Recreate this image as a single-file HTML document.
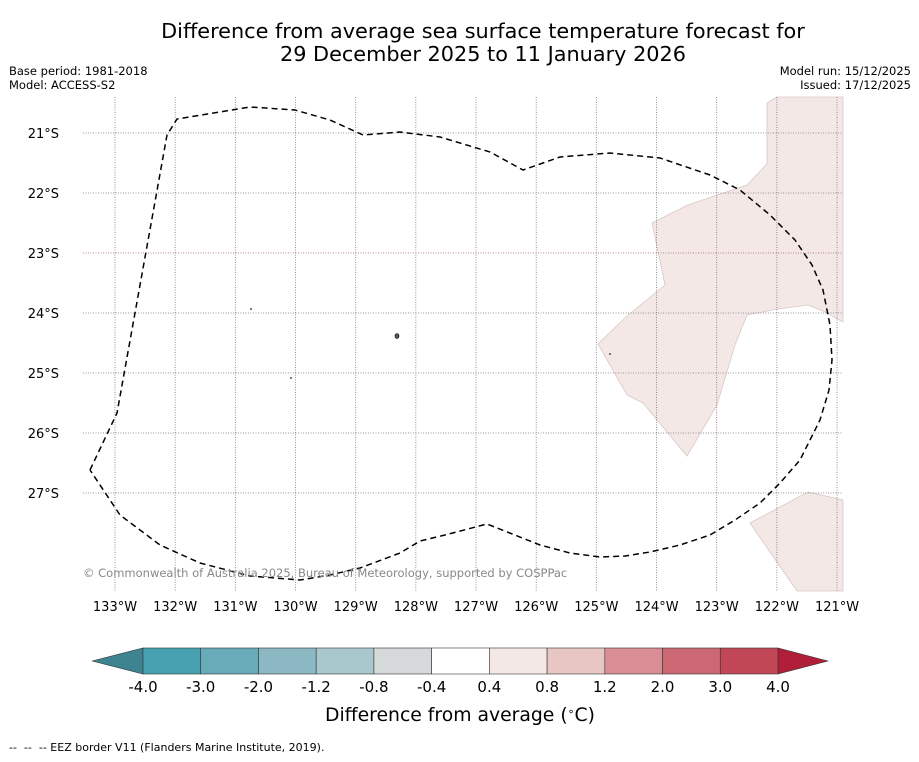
<!DOCTYPE html>
<html><head><meta charset="utf-8"><style>
body{margin:0;background:#fff;font-family:"DejaVu Sans","Liberation Sans",sans-serif;}
svg text{font-family:"DejaVu Sans","Liberation Sans",sans-serif;}
</style></head><body>
<svg id="c" width="919" height="758" xmlns="http://www.w3.org/2000/svg">
<rect width="919" height="758" fill="#fff"/>
<text x="483" y="38" font-size="20.8" text-anchor="middle">Difference from average sea surface temperature forecast for</text>
<text x="483" y="61" font-size="20.8" text-anchor="middle">29 December 2025 to 11 January 2026</text>
<text x="9" y="75" font-size="11.5">Base period: 1981-2018</text>
<text x="9" y="89" font-size="11.5">Model: ACCESS-S2</text>
<text x="911" y="75" font-size="11.5" text-anchor="end">Model run: 15/12/2025</text>
<text x="911" y="89" font-size="11.5" text-anchor="end">Issued: 17/12/2025</text>
<g id="map"></g>
<text x="83" y="577" font-size="11.5" fill="#888">© Commonwealth of Australia 2025, Bureau of Meteorology, supported by COSPPac</text>
<g id="cbar"></g>
<text x="460" y="721" font-size="18.8" text-anchor="middle">Difference from average (<tspan baseline-shift="super" font-size="11">∘</tspan>C)</text>
<text x="9" y="751" font-size="11" xml:space="preserve" style="white-space:pre">--  --  -- EEZ border V11 (Flanders Marine Institute, 2019).</text>
</svg>
<script>
const lonTicks=[133,132,131,130,129,128,127,126,125,124,123,122,121];
const latTicks=[21,22,23,24,25,26,27];
const levels=["-4.0","-3.0","-2.0","-1.2","-0.8","-0.4","0.4","0.8","1.2","2.0","3.0","4.0"];
const colors=["#47a1b1","#68abb9","#8bb8c3","#a9c8cd","#d5d9da","#ffffff","#f4e8e7","#e8c6c3","#d88e94","#cb6873","#c14656"];
const NS="http://www.w3.org/2000/svg";
const X=lon=>115+(133-lon)*60.17, Y=lat=>133+(lat-21)*60;
const map=document.getElementById('map'), cb=document.getElementById('cbar');
function mk(p,tag,a){const e=document.createElementNS(NS,tag);for(const k in a)e.setAttribute(k,a[k]);p.appendChild(e);return e;}
const pxToLL=pts=>pts.map(([x,y])=>[133-(x-115)/60.17,21+(y-133)/60]);
const region1=pxToLL([[767,103],[777,97],[843,97],[843,322],[825,312],[808,305],[778,309],[747,315],[735,345],[717,405],[687,456],[643,403],[627,395],[598,344],[627,316],[665,285],[652,223],[688,205],[747,185],[767,164]]);
const region2=pxToLL([[750,523],[808,492],[843,500],[843,591],[797,591]]);
const eez=pxToLL([[90,470],[117,413],[167,135],[177,119],[250,107],[295,110],[330,120],[363,135],[400,132],[440,137],[490,152],[523,170],[560,157],[610,153],[660,158],[710,175],[740,190],[770,215],[795,240],[812,265],[823,290],[830,325],[832,360],[829,390],[820,420],[800,460],[780,483],[760,503],[735,520],[710,535],[680,545],[650,552],[625,556],[600,557],[570,553],[540,545],[487,524],[445,535],[420,541],[400,553],[360,568],[330,575],[300,580],[250,576],[200,563],[160,545],[120,515],[90,470]]);
const pts=a=>a.map(([lo,la])=>X(lo).toFixed(1)+","+Y(la).toFixed(1)).join(" ");
let e;
e=mk(map,'polygon',{points:pts(region1),fill:'#f4e8e7',stroke:'#d8c8c6','stroke-width':0.8});


e=mk(map,'polygon',{points:pts(region2),fill:'#f4e8e7',stroke:'#d8c8c6','stroke-width':0.8});


lonTicks.forEach(l=>{const x=X(l);
 e=mk(map,'line',{x1:x,x2:x,y1:97,y2:591,stroke:l==123?'#a06070':'#777','stroke-width':0.8,'stroke-dasharray':'1,1.5'});
 
 
 e=mk(map,'text',{x:x,y:611,'font-size':13,'text-anchor':'middle'});e.textContent=l+"°W";
 
 });
latTicks.forEach(l=>{const y=Y(l);
 e=mk(map,'line',{x1:83,x2:843,y1:y,y2:y,stroke:l==23?'#a06070':'#777','stroke-width':0.8,'stroke-dasharray':'1,1.5'});
 
 
 e=mk(map,'text',{x:59,y:y+5,'font-size':13,'text-anchor':'end'});e.textContent=l+"°S";
 
 });
e=mk(map,'polyline',{points:pts(eez),fill:'none',stroke:'#000','stroke-width':1.5,'stroke-dasharray':'6,4'});


[[250,309],[290,378],[609,354]].forEach(([x,y])=>{e=mk(map,'line',{x1:x,x2:x+2,y1:y,y2:y,stroke:'#000','stroke-width':1});
 
 });
e=mk(map,'ellipse',{cx:397,cy:336,rx:2,ry:2.5,fill:'#555',stroke:'#000','stroke-width':0.6});


const x0=143,x1=778,w=(x1-x0)/colors.length;
e=mk(cb,'polygon',{points:`92,661 ${x0},648 ${x0},674`,fill:'#3d8390',stroke:'#333','stroke-width':0.6});


e=mk(cb,'polygon',{points:`828,661 ${x1},648 ${x1},674`,fill:'#b01e3a',stroke:'#333','stroke-width':0.6});


colors.forEach((c,i)=>{e=mk(cb,'rect',{x:x0+i*w,y:648,width:w,height:26,fill:c,stroke:'#333','stroke-width':0.6});
 
 });
levels.forEach((t,i)=>{e=mk(cb,'text',{x:x0+i*w,y:692,'font-size':15,'text-anchor':'middle'});e.textContent=t;
 
 });
</script>
</body></html>
